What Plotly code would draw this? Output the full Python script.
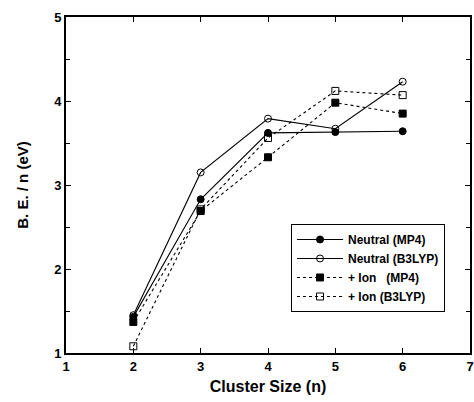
import plotly.graph_objects as go

cluster_size = [2, 3, 4, 5, 6]
neutral_mp4 = [1.43, 2.83, 3.62, 3.63, 3.64]
neutral_b3lyp = [1.45, 3.15, 3.79, 3.67, 4.23]
ion_mp4 = [1.37, 2.69, 3.33, 3.98, 3.85]
ion_b3lyp = [1.08, 2.71, 3.56, 4.12, 4.07]

names = ["Neutral (MP4)", "Neutral (B3LYP)", "+ Ion   (MP4)", "+ Ion (B3LYP)"]
series = [neutral_mp4, neutral_b3lyp, ion_mp4, ion_b3lyp]
symbols = ["circle", "circle-open", "square", "square-open"]
dashes = ["solid", "solid", "dash", "dash"]

fig = go.Figure()
for nm, ys, sym, dsh in zip(names, series, symbols, dashes):
    fig.add_trace(go.Scatter(
        x=cluster_size, y=ys, name=nm.replace("   ", "&nbsp;&nbsp;&nbsp;"), mode="lines+markers",
        line=dict(color="black", width=1.1, dash="3px,3px" if dsh == "dash" else "solid"),
        marker=dict(symbol=sym, size=7, color="black", line=dict(color="black", width=1)),
    ))

font_fam = "Liberation Sans, Arial, sans-serif"
fig.update_layout(
    width=474, height=402,
    margin=dict(l=66, r=4, t=17, b=49),
    paper_bgcolor="white", plot_bgcolor="white",
    font=dict(family=font_fam, color="black", size=12),
    legend=dict(
        x=0.557, y=0.384, xanchor="left", yanchor="top",
        bordercolor="black", borderwidth=1, bgcolor="white",
        font=dict(family=font_fam, size=12, weight="bold"),
        tracegroupgap=0, itemwidth=46,
    ),
    xaxis=dict(
        range=[1, 7], dtick=1, tick0=1,
        showline=True, linecolor="black", linewidth=1.8, mirror="ticks",
        ticks="inside", ticklen=5, tickcolor="black",
        showgrid=False, zeroline=False, automargin=False,
        tickfont=dict(size=13, weight="bold"),
        title=dict(text="Cluster Size (n)", font=dict(size=16, weight="bold"), standoff=8),
    ),
    yaxis=dict(
        range=[1, 5], dtick=1, tick0=1,
        showline=True, linecolor="black", linewidth=1.8, mirror="ticks",
        ticks="inside", ticklen=5, tickcolor="black",
        minor=dict(dtick=0.5, ticks="inside", ticklen=4, tickcolor="black"),
        showgrid=False, zeroline=False, automargin=False,
        tickfont=dict(size=13, weight="bold"),
        title=dict(text="B. E. / n (eV)", font=dict(size=15, weight="bold"), standoff=22),
    ),
)

fig.write_html("out.html", config={"displayModeBar": False},
               post_script="document.body.style.margin='0';")
